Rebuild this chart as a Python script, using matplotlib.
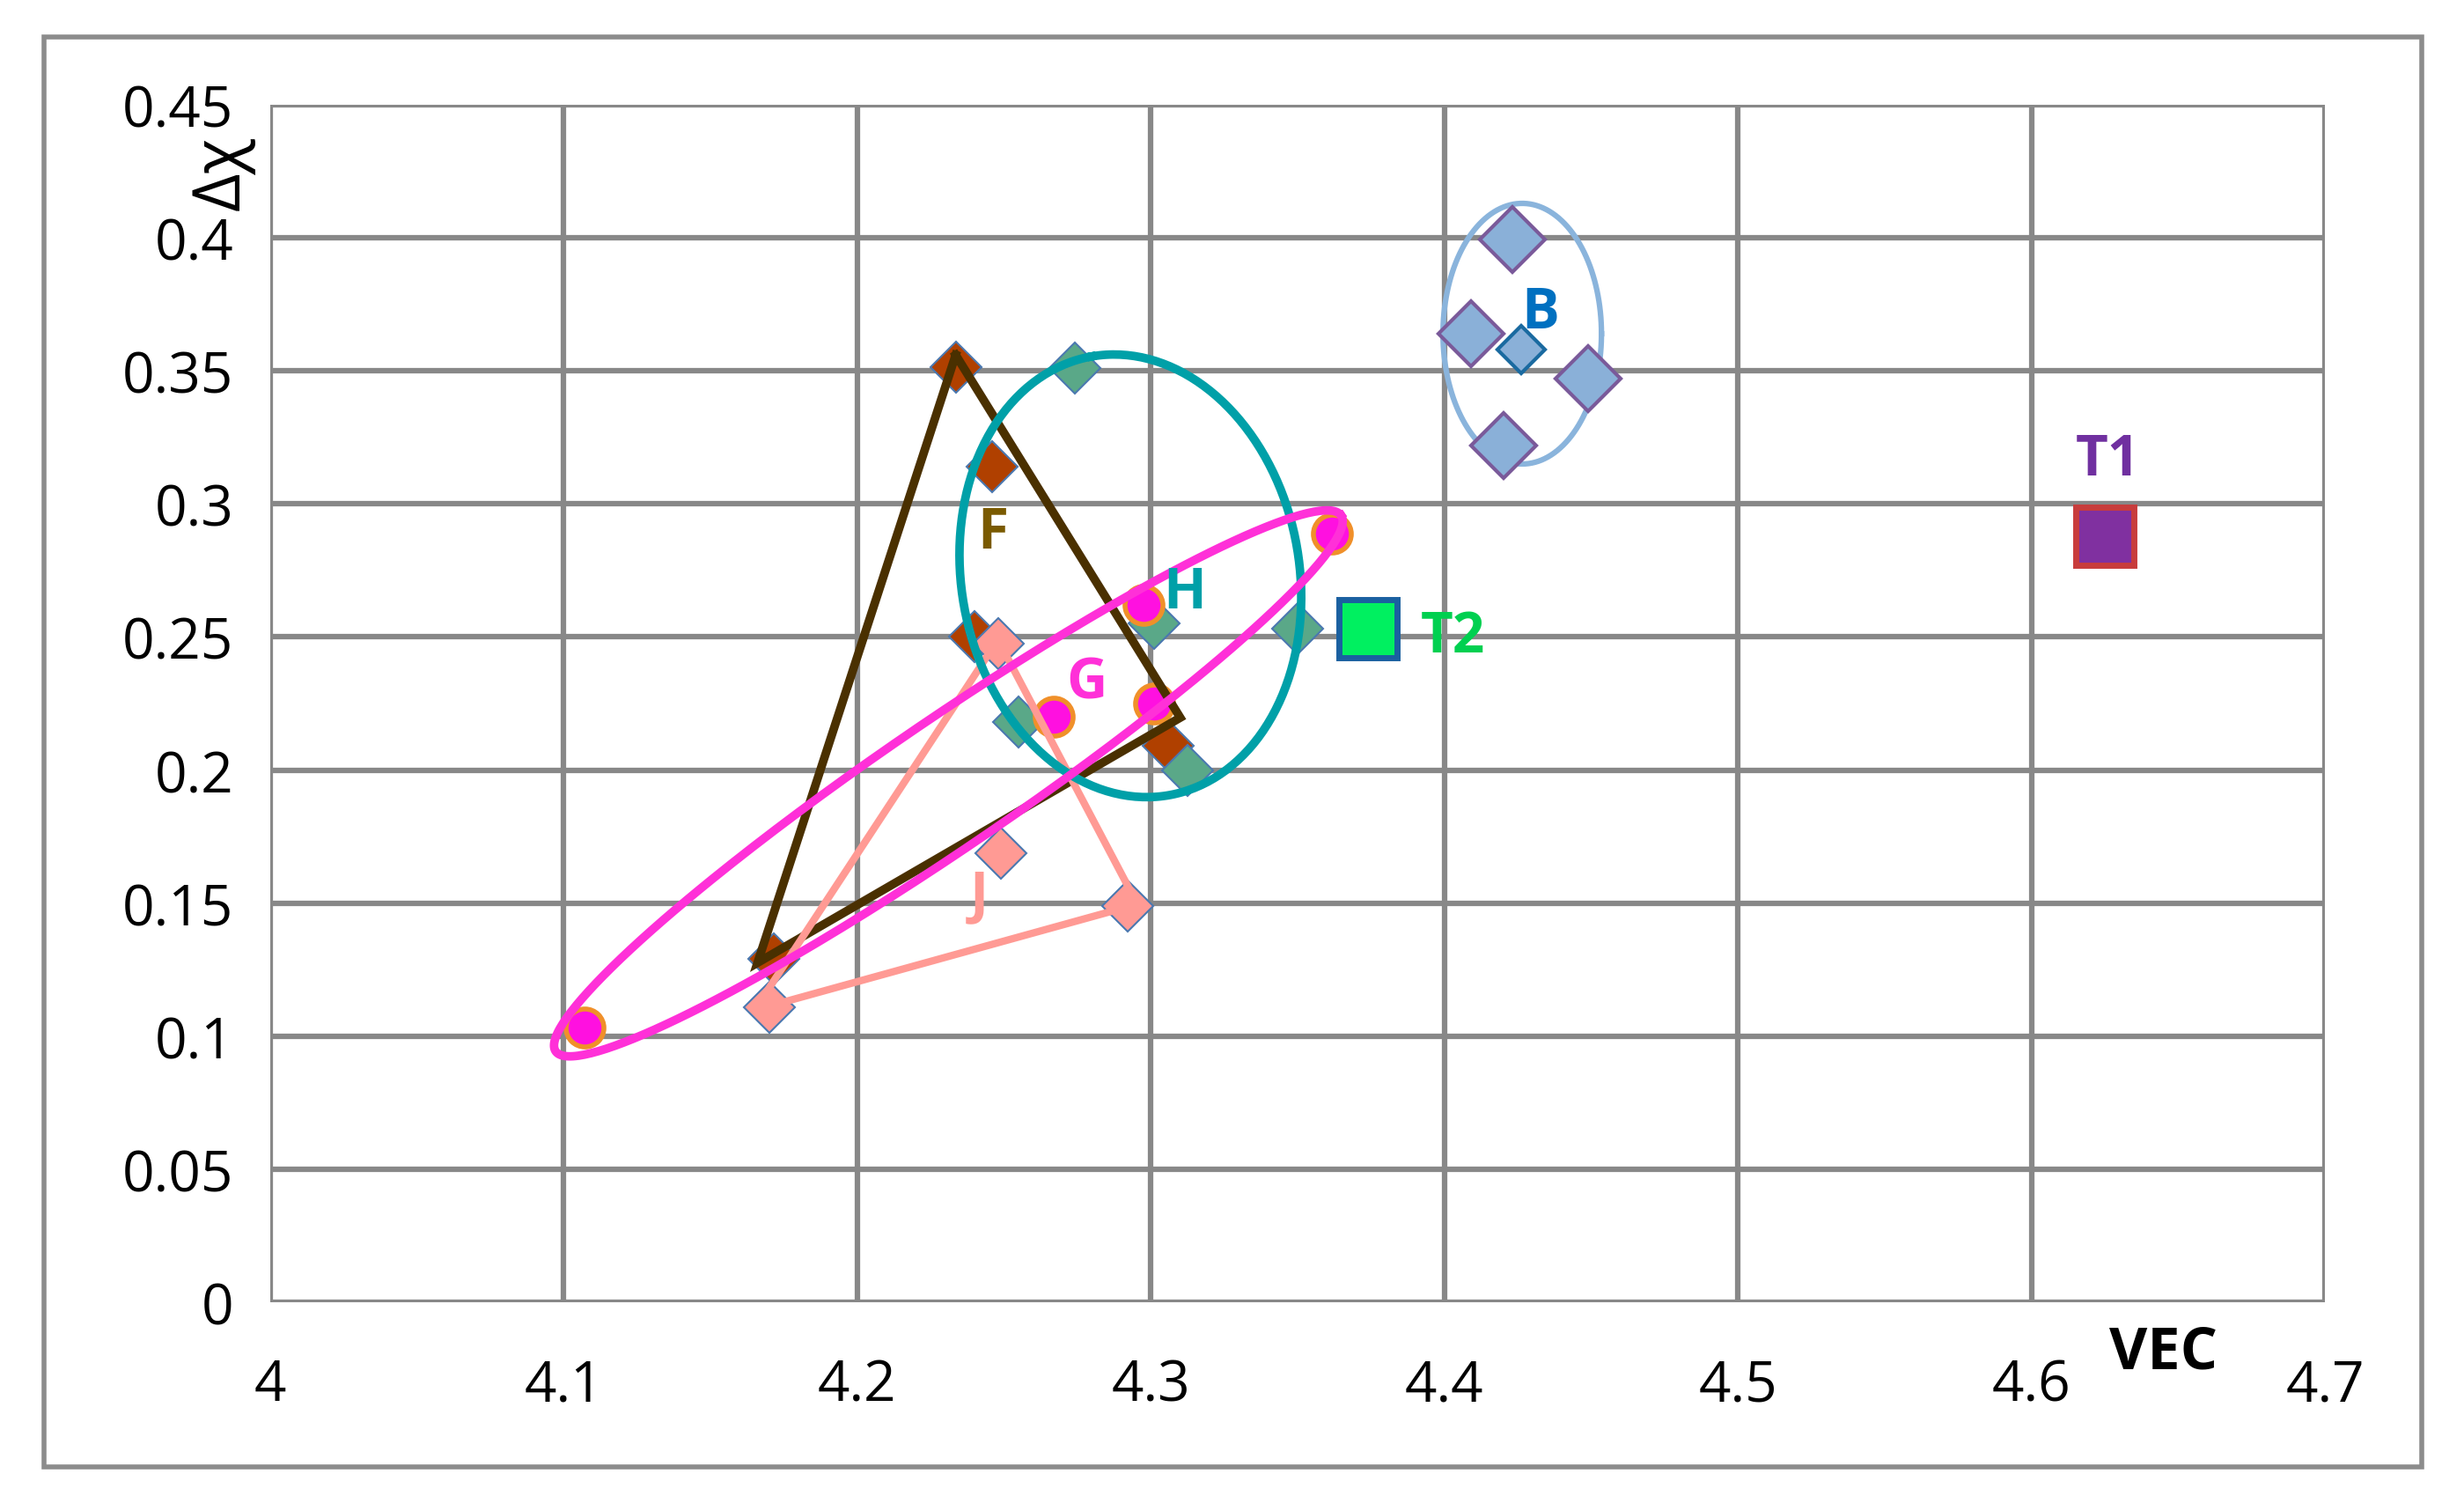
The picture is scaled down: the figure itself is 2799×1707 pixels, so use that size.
import numpy as np
import matplotlib
matplotlib.use("Agg")
import matplotlib.pyplot as plt
from matplotlib.patches import Rectangle

plt.rcParams['font.family'] = ['Open Sans', 'DejaVu Sans']

# ---- data ----
B_x = [4.423, 4.409, 4.449, 4.420]
B_y = [0.3995, 0.364, 0.347, 0.322]
B2_x = [4.426]; B2_y = [0.358]
F_x = [4.2335, 4.246, 4.240, 4.306, 4.1716]
F_y = [0.3515, 0.314, 0.250, 0.209, 0.129]
F_tri_x = [4.2335, 4.310, 4.166, 4.2335]
F_tri_y = [0.356, 0.2197, 0.1276, 0.356]
H_x = [4.274, 4.301, 4.350, 4.255, 4.3126]
H_y = [0.351, 0.255, 0.253, 0.218, 0.200]
G_x = [4.107, 4.267, 4.2976, 4.301, 4.3616]
G_y = [0.1033, 0.220, 0.262, 0.225, 0.289]
J_x = [4.248, 4.249, 4.292, 4.170]
J_y = [0.2475, 0.1686, 0.149, 0.111]
J_tri_x = [4.2479, 4.2954, 4.165, 4.2479]
J_tri_y = [0.249, 0.1496, 0.1098, 0.249]
T1 = (4.625, 0.288)
T2 = (4.374, 0.253)
xticks = [4, 4.1, 4.2, 4.3, 4.4, 4.5, 4.6, 4.7]
yticks = [0, 0.05, 0.1, 0.15, 0.2, 0.25, 0.3, 0.35, 0.4, 0.45]
ytick_labels = ['0', '0.05', '0.1', '0.15', '0.2', '0.25', '0.3', '0.35', '0.4', '0.45']

fig = plt.figure(figsize=(27.99, 17.08), dpi=100)
fig.patches.append(Rectangle((0.018, 0.024), 0.965, 0.951, transform=fig.transFigure,
                             fill=False, edgecolor='#8c8c8c', lw=4))
ax = fig.add_axes([0.1097, 0.1335, 0.8339, 0.7962])
ax.set_xlim(4, 4.7); ax.set_ylim(0, 0.45)
for s in ax.spines.values():
    s.set_visible(False)
ax.set_xticks(xticks); ax.set_xticklabels([f'{t:g}' for t in xticks])
ax.set_yticks(yticks); ax.set_yticklabels(ytick_labels)
ax.tick_params(length=0, labelsize=46, pad=30)
ax.tick_params(axis='x', pad=45)
ax.grid(True, color='#888888', lw=4.5)
ax.set_axisbelow(True)

PX = 2334 / 0.7
PY = 1360 / 0.45

def ellipse(cx, cy, a, b, ang, **kw):
    t = np.linspace(0, 2 * np.pi, 300)
    r = np.deg2rad(ang)
    ex = a * np.cos(t); ey = b * np.sin(t)
    xs = cx + (ex * np.cos(r) - ey * np.sin(r)) / PX
    ys = cy + (ex * np.sin(r) + ey * np.cos(r)) / PY
    ax.plot(xs, ys, **kw)

# markers
ax.plot(F_x, F_y, 'D', ms=30, mfc='#b04000', mec='#4a78b0', mew=1.5, zorder=3)
ax.plot(H_x, H_y, 'D', ms=30, mfc='#5aa888', mec='#4a78b0', mew=1.5, zorder=3)
ax.plot(J_x, J_y, 'D', ms=30, mfc='#ff9a94', mec='#4a78b0', mew=1.5, zorder=3)
ax.plot(B_x, B_y, 'D', ms=38, mfc='#8ab0d8', mec='#7a5a9a', mew=3, zorder=3)
ax.plot(B2_x, B2_y, 'D', ms=28, mfc='#8ab0d8', mec='#1a6aa0', mew=3, zorder=3)
ax.plot(G_x, G_y, 'o', ms=31, mfc='#ff10e0', mec='#f0902a', mew=4, zorder=4)
ax.plot([T1[0]], [T1[1]], 's', ms=48, mfc='#8030a0', mec='#c83c3c', mew=5, zorder=4)
ax.plot([T2[0]], [T2[1]], 's', ms=48, mfc='#00f060', mec='#1a60a0', mew=5, zorder=4)

# shapes
ax.plot(F_tri_x, F_tri_y, color='#4a3000', lw=7, zorder=5, solid_joinstyle='miter')
ax.plot(J_tri_x, J_tri_y, color='#ff9a94', lw=6, zorder=5)
ellipse(4.293, 0.273, 253, 192, 100, color='#00a0a8', lw=7, zorder=5)
ellipse(4.231, 0.195, 540, 72, 34.3, color='#ff30d8', lw=7, zorder=5)
ellipse(4.4265, 0.364, 90, 148, 0, color='#8ab4dc', lw=4.5, zorder=2)

# labels
lab = dict(fontsize=46, fontweight='bold', ha='center', va='center', zorder=6)
ax.text(4.246, 0.289, 'F', color='#7a5a00', **lab)
ax.text(4.3116, 0.2665, 'H', color='#00a0a8', **lab)
ax.text(4.278, 0.2327, 'G', color='#ff30d8', **lab)
ax.text(4.2416, 0.1526, 'J', color='#ff9a94', **lab)
ax.text(4.4326, 0.3716, 'B', color='#0070c0', **lab)
ax.text(4.626, 0.3164, 'T1', color='#7030a0', **lab)
ax.text(4.403, 0.2499, 'T2', color='#00d050', **lab)

fig.text(0.09, 0.885, 'Δχ', rotation=90, fontsize=54, ha='center', va='center')
fig.text(0.878, 0.10, 'VEC', fontsize=48, fontweight='bold', ha='center', va='center')

fig.savefig('out.png', dpi=100, facecolor='white')
